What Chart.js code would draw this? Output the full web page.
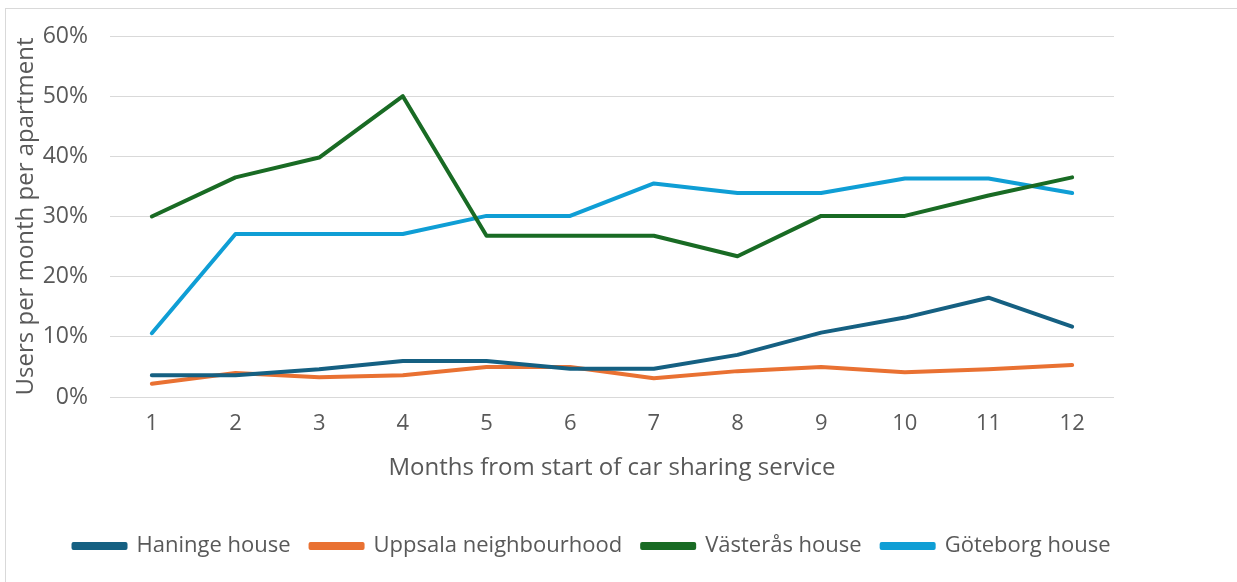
<!DOCTYPE html>
<html lang="en">
<head>
    <meta charset="UTF-8">
    <title>car sharing users</title>
    <style>
        body { margin: 0; background: #fff; }
        #frame { position: absolute; left: 5px; top: 8px; width: 1240px; height: 580px; border: 1px solid #d9d9d9; }
        #wrap { position: absolute; left: 0; top: 0; width: 1237px; height: 582px; }
    </style>
</head>
<body>
<div id="frame"></div>
<div id="wrap"><canvas id="mycanvas"></canvas></div>

<script src="https://cdn.jsdelivr.net/npm/chart.js"></script>

<script>
    // months 1..12, values in percent
    const months = ["1","2","3","4","5","6","7","8","9","10","11","12"];
    const haninge = [3.6, 3.6, 4.6, 6.0, 6.0, 4.7, 4.7, 7.0, 10.7, 13.2, 16.5, 11.7];
    const uppsala = [2.2, 4.0, 3.3, 3.6, 5.0, 5.0, 3.1, 4.3, 5.0, 4.1, 4.6, 5.3];
    const vasteras = [30.0, 36.5, 39.8, 50.0, 26.8, 26.8, 26.8, 23.4, 30.1, 30.1, 33.5, 36.5];
    const goteborg = [10.6, 27.1, 27.1, 27.1, 30.1, 30.1, 35.5, 33.9, 33.9, 36.3, 36.3, 33.9];

    const grey = "#595959";
    const fontName = "'Open Sans', sans-serif";

    function serie(label, data, color) {
        return {
            label: label,
            data: data,
            borderColor: color,
            backgroundColor: color,
            borderWidth: 4,
            pointRadius: 0,
            tension: 0,
            borderCapStyle: "round",
            borderJoinStyle: "round"
        };
    }

    // nudge the legend row a bit to the right, like the original
    const legendShift = {
        id: "legendShift",
        afterLayout(chart) {
            chart.legend.left += 29;
            chart.legend.right += 29;
        }
    };

    const ctx = document.getElementById("mycanvas");
    new Chart(ctx, {
        type: "line",
        data: {
            labels: months,
            datasets: [
                serie("Haninge house", haninge, "#156082"),
                serie("Uppsala neighbourhood", uppsala, "#E97132"),
                serie("Västerås house", vasteras, "#196B24"),
                serie("Göteborg house", goteborg, "#0F9ED5")
            ]
        },
        plugins: [legendShift],
        options: {
            responsive: true,
            maintainAspectRatio: false,
            animation: false,
            layout: { padding: { left: 12, right: 123, top: 36, bottom: 15 } },
            plugins: {
                tooltip: { enabled: false },
                legend: {
                    position: "bottom",
                    labels: {
                        boxWidth: 52,
                        boxHeight: 4,
                        padding: 20,
                        color: grey,
                        font: { family: fontName, size: 22 }
                    }
                }
            },
            scales: {
                x: {
                    offset: true,
                    grid: { display: false, drawTicks: false },
                    border: { display: false },
                    ticks: { color: grey, font: { family: fontName, size: 22 }, padding: 14 },
                    title: {
                        display: true,
                        text: "Months from start of car sharing service",
                        color: grey,
                        font: { family: fontName, size: 24 },
                        padding: { top: 17, bottom: 32 }
                    },
                    afterFit: function (scale) { scale.height = 118; }
                },
                y: {
                    min: 0,
                    max: 60,
                    grid: { color: "#d9d9d9", lineWidth: 1, drawTicks: false },
                    border: { display: false },
                    ticks: {
                        stepSize: 10,
                        color: grey,
                        font: { family: fontName, size: 23 },
                        padding: 22,
                        callback: function (v) { return v + "%"; }
                    },
                    title: {
                        display: true,
                        text: "Users per month per apartment",
                        color: grey,
                        font: { family: fontName, size: 24 },
                        padding: { top: 0, bottom: 4 }
                    },
                    afterFit: function (scale) { scale.width = 98; }
                }
            }
        }
    });
</script>
</body>
</html>
